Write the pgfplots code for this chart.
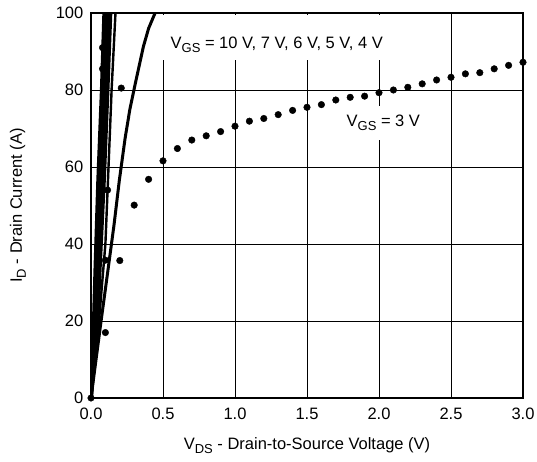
\documentclass[border=0pt]{standalone}
\usepackage{fontspec}
\setmainfont{Liberation Sans}
\usepackage{pgfplots}
\pgfplotsset{compat=1.18}
\newcommand\sub[1]{\raisebox{-0.45ex}{\fontsize{13}{13}\selectfont #1}}
\begin{document}
\fontsize{16.5}{19}\selectfont
\begin{tikzpicture}
\path[use as bounding box] (-91pt,-64pt) rectangle (446pt,398pt);
\begin{axis}[at={(0pt,0pt)}, anchor=south west,
  scale only axis, width=432pt, height=385pt,
  xmin=0, xmax=3, ymin=0, ymax=100,
  xtick={0,0.5,1,1.5,2,2.5,3}, ytick={0,20,40,60,80,100},
  xticklabel style={/pgf/number format/fixed, /pgf/number format/fixed zerofill, /pgf/number format/precision=1},
  /pgf/number format/assume math mode=true,
  grid=major, major grid style={black, line width=0.8pt},
  major tick length=0pt,
  axis line style={line width=2.5pt},
  xticklabel style={yshift=-4pt},
  yticklabel style={xshift=-2pt},
  xlabel={V\sub{DS} - Drain-to-Source Voltage (V)},
  ylabel={I\sub{D} - Drain Current (A)},
  xlabel style={at={(axis description cs:0.5,-0.135)}, anchor=base},
  ylabel style={at={(axis description cs:-0.16,0.5)}, anchor=base},
]
% white patch behind the upper label
\fill[white] (axis cs:0.47,87.8) rectangle (axis cs:2.1,99.5);

% VGS = 10 V, 7 V, 6 V (bundle)
\addplot[black, line width=3.8pt] coordinates {(0,0) (0.02,20) (0.03,33) (0.05,56.6) (0.075,80) (0.092,100)};
\addplot[black, line width=3.8pt] coordinates {(0,0) (0.03,20) (0.045,33) (0.07,56.6) (0.095,80) (0.115,100)};
\addplot[black, line width=3.8pt] coordinates {(0,0) (0.045,20) (0.06,33) (0.09,56.6) (0.115,80) (0.135,100)};
% VGS = 5 V
\addplot[black, line width=2.4pt] coordinates {(0,0) (0.06,22) (0.1,40) (0.118,56.6) (0.143,80) (0.17,100)};
% VGS = 4 V
\addplot[black, line width=3pt] coordinates {(0,0) (0.035,10) (0.07,20) (0.117,33) (0.16,45) (0.197,56.6) (0.237,67.5) (0.27,75) (0.306,81.4) (0.364,91.3) (0.40,96) (0.445,100)};

% VGS = 3 V (dotted)
\addplot[only marks, mark=*, mark size=3.3pt, black] coordinates {
(0,0) (0.1,17) (0.2,35.7) (0.3,50.1) (0.4,56.8) (0.5,61.6) (0.6,64.8) (0.7,67.0)
(0.8,68.1) (0.9,69.2) (1.0,70.6) (1.1,71.9) (1.2,72.6) (1.3,73.6) (1.4,74.7)
(1.5,75.5) (1.6,76.2) (1.7,77.4) (1.8,78.1) (1.9,78.4) (2.0,79.3) (2.1,80.0)
(2.2,80.7) (2.3,81.6) (2.4,82.6) (2.5,83.3) (2.6,84.2) (2.7,84.5) (2.8,85.5)
(2.9,86.4) (3.0,87.2)};
% stray dots on the steep curves
\addplot[only marks, mark=*, mark size=3.3pt, black] coordinates {
(0.08,91) (0.08,85.5) (0.21,80.5) (0.115,54) (0.1,35.8)};

\node[anchor=center] at (axis cs:1.29,91.7) {V\sub{GS} = 10 V, 7 V, 6 V, 5 V, 4 V};
\node[fill=white, inner xsep=4pt, inner ysep=9pt] at (axis cs:2.03,71.5) {V\sub{GS} = 3 V};
\end{axis}
\end{tikzpicture}
\end{document}
